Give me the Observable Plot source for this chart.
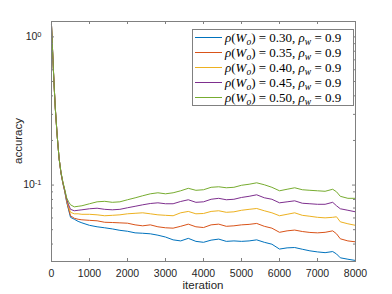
<!DOCTYPE html>
<html><head><meta charset="utf-8">
<script src="https://cdn.jsdelivr.net/npm/d3@7"></script>
<script src="https://cdn.jsdelivr.net/npm/@observablehq/plot@0.6"></script>
<style>body{margin:0;background:#fff}#chart{width:392px;height:294px}</style>
</head><body><div id="chart"></div>
<script>
const iterations = [0,25,50,75,100,150,200,250,300,350,400,450,500,600,700,800,
  1000,1200,1400,1600,1800,2000,2200,2400,2600,2800,
  3000,3200,3400,3600,3800,4000,4200,4400,4600,4800,
  5000,5200,5400,5600,5800,6000,6200,6400,6600,6800,
  7000,7200,7400,7500,7600,7800,8000];

const rhoWo = ["0.30","0.35","0.40","0.45","0.50"];
const rhoW = "0.9";
const colors = ["#0072BD","#D95319","#EDB120","#7E2F8E","#77AC30"];

const acc030 = [1.2,0.85,0.6,0.44,0.33,0.215,0.151,0.12,0.1025,0.090,0.0765,0.0681,0.0606,0.0588,0.0569,0.0556,
  0.0535,0.0523,0.0515,0.0506,0.0495,0.0488,0.0476,0.0473,0.0469,0.0459,
  0.0446,0.0427,0.0420,0.0437,0.0417,0.0411,0.0425,0.0432,0.0417,0.0420,
  0.0417,0.0420,0.0427,0.0411,0.0399,0.0370,0.0377,0.0379,0.0369,0.0360,
  0.0354,0.0350,0.0356,0.0343,0.0323,0.0316,0.0310];
const acc035 = [1.2,0.85,0.6,0.44,0.33,0.215,0.151,0.12,0.103,0.0905,0.0777,0.0692,0.0621,0.0597,0.0588,0.0583,
  0.0578,0.0574,0.0561,0.0559,0.0556,0.0553,0.0539,0.0531,0.0539,0.0523,
  0.0515,0.0512,0.0527,0.0545,0.0523,0.0517,0.0539,0.0545,0.0527,0.0531,
  0.0539,0.0543,0.0551,0.0527,0.0512,0.0480,0.0491,0.0497,0.0486,0.0479,
  0.0476,0.0480,0.0491,0.0469,0.0434,0.0420,0.0414];
const acc040 = [1.2,0.85,0.6,0.44,0.33,0.215,0.151,0.121,0.1035,0.0915,0.0789,0.0713,0.0655,0.0640,0.0640,0.0635,
  0.0635,0.0630,0.0621,0.0625,0.0630,0.0640,0.0645,0.0650,0.0640,0.0630,
  0.0625,0.0621,0.0650,0.0664,0.0640,0.0643,0.0664,0.0671,0.0655,0.0660,
  0.0676,0.0686,0.0695,0.0671,0.0650,0.0621,0.0635,0.0650,0.0625,0.0616,
  0.0606,0.0601,0.0606,0.0611,0.0565,0.0548,0.0535];
const acc045 = [1.2,0.85,0.6,0.44,0.33,0.215,0.151,0.121,0.104,0.092,0.0802,0.0736,0.0686,0.0671,0.0676,0.0681,
  0.0692,0.0698,0.0686,0.0681,0.0686,0.0703,0.0719,0.0736,0.0751,0.0759,
  0.0748,0.0748,0.0775,0.0796,0.0765,0.0771,0.0802,0.0814,0.0796,0.0802,
  0.0825,0.0840,0.0860,0.0821,0.0802,0.0759,0.0771,0.0783,0.0754,0.0748,
  0.0742,0.0742,0.0765,0.0725,0.0692,0.0676,0.0660];
const acc050 = [1.2,0.85,0.6,0.44,0.33,0.215,0.151,0.122,0.105,0.093,0.082,0.0771,0.0736,0.0713,0.0719,0.0725,
  0.0748,0.0771,0.0777,0.0765,0.0771,0.0796,0.0820,0.0847,0.0873,0.0887,
  0.0873,0.0887,0.0915,0.0951,0.0922,0.0930,0.0966,0.0974,0.0959,0.0966,
  0.0997,0.1013,0.1036,0.1005,0.0966,0.0915,0.0937,0.0959,0.0930,0.0922,
  0.0915,0.0908,0.0937,0.0901,0.0840,0.0814,0.0814];

const xTicks = [0,1000,2000,3000,4000,5000,6000,7000,8000];
const yMajor = [0.1, 1];
const yMinor = [0.04,0.05,0.06,0.07,0.08,0.09,0.2,0.3,0.4,0.5,0.6,0.7,0.8,0.9];

const allSeries = [acc030, acc035, acc040, acc045, acc050];
const W = 392, H = 294, mL = 51, mR = 37, mT = 21, mB = 33;
const fw = W - mL - mR, fh = H - mT - mB;
const axisColor = "#808080";

const rows = [];
allSeries.forEach((vals, i) => iterations.forEach((it, j) => rows.push({it, v: vals[j], s: rhoWo[i]})));

const svg = Plot.plot({
  width: W, height: H, marginLeft: mL, marginRight: mR, marginTop: mT, marginBottom: mB,
  style: {fontFamily: "'Liberation Sans', Arial, sans-serif", fontSize: "10.5px", color: "#262626", background: "#fff"},
  x: {domain: [0, 8000]},
  y: {type: "log", domain: [0.0305, 1.27]},
  color: {domain: rhoWo, range: colors},
  marks: [
    Plot.line(rows, {x: "it", y: "v", stroke: "s", strokeWidth: 1}),
    Plot.frame({stroke: axisColor}),
    Plot.tickX(xTicks, {x: d => d, stroke: axisColor, insetTop: fh - 3}),
    Plot.tickX(xTicks, {x: d => d, stroke: axisColor, insetBottom: fh - 3}),
    Plot.tickY(yMajor, {y: d => d, stroke: axisColor, insetRight: fw - 3}),
    Plot.tickY(yMajor, {y: d => d, stroke: axisColor, insetLeft: fw - 3}),
    Plot.tickY(yMinor, {y: d => d, stroke: axisColor, insetRight: fw - 2}),
    Plot.tickY(yMinor, {y: d => d, stroke: axisColor, insetLeft: fw - 2}),
    Plot.axisX({ticks: xTicks, tickSize: 0, tickPadding: 8, tickFormat: d => String(d), label: null}),
    Plot.axisY({ticks: yMajor, tickSize: 0, tickPadding: 10, tickFormat: d => "10^" + Math.round(Math.log10(d)), label: null})
  ]
});

const s = d3.select(svg);
// superscript exponents on y tick labels
s.selectAll('g[aria-label="y-axis tick label"] text').each(function() {
  const t = d3.select(this);
  const [base, exp] = t.text().split("^");
  t.text(base);
  t.append("tspan").attr("dy", "-0.45em").attr("font-size", "7.5px").text(exp);
});

// axis labels
s.append("text").attr("x", mL + fw / 2).attr("y", 289).attr("text-anchor", "middle")
  .attr("font-size", "11.5px").attr("fill", "#262626").text("iteration");
s.append("text").attr("transform", `translate(18,${mT + fh / 2}) rotate(-90)`).attr("text-anchor", "middle")
  .attr("dy", "0.35em").attr("font-size", "11.5px").attr("fill", "#262626").text("accuracy");

// legend
const lg = s.append("g").attr("text-anchor", "start");
lg.append("rect").attr("x", 192.5).attr("y", 29.5).attr("width", 161).attr("height", 76)
  .attr("fill", "#fff").attr("stroke", axisColor);
rhoWo.forEach((r, i) => {
  const y = 37 + 15 * i;
  lg.append("line").attr("x1", 195).attr("x2", 222).attr("y1", y + 0.5).attr("y2", y + 0.5)
    .attr("stroke", colors[i]).attr("stroke-width", 1);
  const t = lg.append("text").attr("x", 225).attr("y", y + 4.5).attr("text-anchor", "start")
    .attr("font-family", "'Liberation Serif', 'DejaVu Serif', serif").attr("font-size", "13px").attr("fill", "#000");
  t.append("tspan").attr("font-style", "italic").text("ρ");
  t.append("tspan").text("(");
  t.append("tspan").attr("font-style", "italic").text("W");
  t.append("tspan").attr("font-style", "italic").attr("font-size", "9.5px").attr("dy", 3).text("o");
  t.append("tspan").attr("dy", -3).text(") = " + r + ", ");
  t.append("tspan").attr("font-style", "italic").text("ρ");
  t.append("tspan").attr("font-style", "italic").attr("font-size", "9.5px").attr("dy", 3).text("w");
  t.append("tspan").attr("dy", -3).text(" = " + rhoW);
});

document.getElementById("chart").appendChild(svg);
</script>
</body></html>
